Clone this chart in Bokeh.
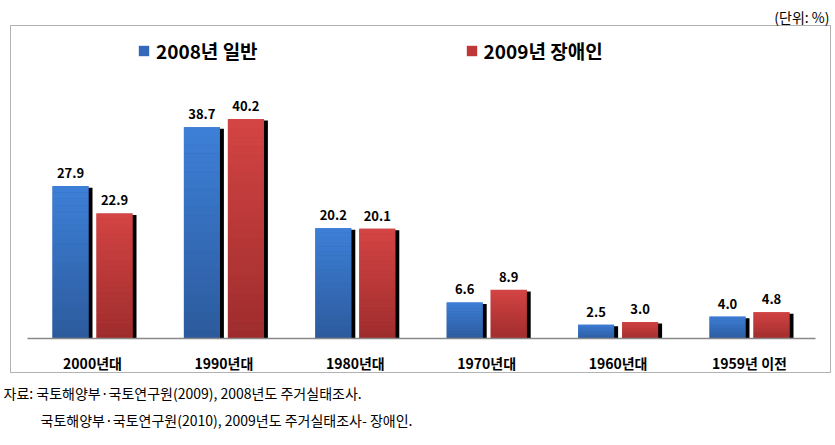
from bokeh.plotting import figure
from bokeh.models import (ColumnDataSource, Range1d, Legend, LegendItem, Label, BoxAnnotation)
from bokeh.core.properties import value
from bokeh.embed import file_html
from bokeh.resources import INLINE

categories = ["2000년대", "1990년대", "1980년대", "1970년대", "1960년대", "1959년 이전"]
general_2008 = [27.9, 38.7, 20.2, 6.6, 2.5, 4.0]
disabled_2009 = [22.9, 40.2, 20.1, 8.9, 3.0, 4.8]
series_names = ["2008년 일반", "2009년 장애인"]
unit_text = "(단위: %)"
source_lines = ["자료: 국토해양부·국토연구원(2009), 2008년도 주거실태조사.",
                "국토해양부·국토연구원(2010), 2009년도 주거실태조사- 장애인."]

FONT = "Noto Sans CJK KR"
W, H = 835, 445
PX_X = 131.4          # pixels per category
PX_Y = 5.46           # pixels per percent
X0 = 92               # pixel centre of first category
BASE = 338            # pixel row of the baseline (from top)
OFF = 22 / PX_X       # bar centre offset
BW = 36 / PX_X        # bar width

p = figure(width=W, height=H, output_backend="svg", toolbar_location=None,
           x_range=Range1d(-X0 / PX_X, (W - X0) / PX_X),
           y_range=Range1d(-(H - BASE) / PX_Y, BASE / PX_Y),
           min_border=0)
p.xaxis.visible = False
p.yaxis.visible = False
p.xgrid.visible = False
p.ygrid.visible = False
p.outline_line_color = None
p.background_fill_color = "white"
p.border_fill_color = "white"

# chart frame box
p.add_layout(BoxAnnotation(left=10, right=830, bottom=H - 372, top=H - 25,
                           left_units="screen", right_units="screen",
                           bottom_units="screen", top_units="screen",
                           fill_alpha=0, line_color="black", line_width=1))

idx = list(range(len(categories)))

def hex_mix(c1, c2, t):
    a = [int(c1[i:i + 2], 16) for i in (1, 3, 5)]
    b = [int(c2[i:i + 2], 16) for i in (1, 3, 5)]
    return "#%02x%02x%02x" % tuple(round(a[j] + (b[j] - a[j]) * t) for j in range(3))

styles = [("#3468b8", "#2c5a9c", "#3d80d8", -OFF), ("#bf3838", "#9e2c2c", "#d44444", OFF)]
data_sets = [general_2008, disabled_2009]
legend_items = []
N = 24
for vals, name, (mid, dark, light, off) in zip(data_sets, series_names, styles):
    xs = [i + off for i in idx]
    # shadow
    p.vbar(x=[x + 4 / PX_X for x in xs], top=[v - 1.5 / PX_Y for v in vals], bottom=0,
           width=BW, fill_color="black", line_color=None)
    r = p.vbar(x=xs, top=vals, bottom=0, width=BW, fill_color=mid, line_color=None)
    legend_items.append(LegendItem(label=name, renderers=[r]))
    # gradient bands
    bx, bb, bt, bc = [], [], [], []
    for x, v in zip(xs, vals):
        for k in range(N):
            bx.append(x)
            bb.append(v * k / N)
            bt.append(v * (k + 1) / N + 0.01)
            bc.append(hex_mix(dark, light, (k + 0.5) / N))
    p.vbar(x="x", top="top", bottom="bottom", width=BW, fill_color="color", line_color=None,
           source=ColumnDataSource(dict(x=bx, top=bt, bottom=bb, color=bc)))
    p.text(x=xs, y=vals, text=["%.1f" % v for v in vals], text_align="center",
           text_baseline="bottom", y_offset=-8, text_font=value(FONT), text_font_style="bold",
           text_font_size="13px", text_color="black")

# baseline
p.segment(x0=[(27 - X0) / PX_X], x1=[(815 - X0) / PX_X], y0=[0], y1=[0],
          line_color="#888888", line_width=1.5)

# category labels
p.text(x=idx, y=[-(362 - BASE) / PX_Y] * len(idx), text=categories, text_align="center",
       text_baseline="middle", text_font=value(FONT), text_font_style="bold",
       text_font_size="14px", text_color="black")

legend = Legend(items=legend_items, orientation="horizontal", location=(137, H - 64),
                glyph_width=13, glyph_height=13, label_standoff=6, spacing=207,
                padding=0, margin=0, border_line_color=None, background_fill_alpha=0,
                label_text_font=FONT, label_text_font_style="bold",
                label_text_font_size="19px", label_text_color="black")
p.add_layout(legend)

p.add_layout(Label(x=829, y=H - 16, x_units="screen", y_units="screen", text=unit_text,
                   text_align="right", text_baseline="middle", text_font=FONT,
                   text_font_size="14px", text_color="black"))
p.add_layout(Label(x=3, y=H - 392, x_units="screen", y_units="screen", text=source_lines[0],
                   text_align="left", text_baseline="middle", text_font=FONT,
                   text_font_size="14px", text_color="black"))
p.add_layout(Label(x=40, y=H - 419, x_units="screen", y_units="screen", text=source_lines[1],
                   text_align="left", text_baseline="middle", text_font=FONT,
                   text_font_size="14px", text_color="black"))

open("out.html", "w").write(file_html(p, INLINE))
